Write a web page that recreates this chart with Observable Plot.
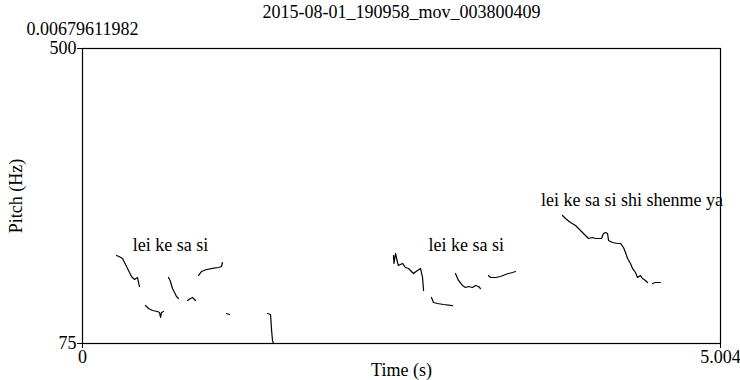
<!DOCTYPE html>
<html>
<head>
<meta charset="utf-8">
<script src="https://cdn.jsdelivr.net/npm/d3@7"></script>
<script src="https://cdn.jsdelivr.net/npm/@observablehq/plot@0.6"></script>
<style>
  html, body { margin: 0; padding: 0; background: #fff; }
</style>
</head>
<body>
<div id="chart"></div>
<script>
// Pitch contour segments (time in s, pitch in Hz)
const segA_t = [0.267, 0.290, 0.314, 0.353, 0.384, 0.408, 0.431, 0.447];
const segA_f = [201.8, 200.0, 197.5, 183.1, 171.5, 167.2, 170.1, 157.1];
const segB_t = [0.494, 0.518, 0.549, 0.588, 0.604, 0.612, 0.620, 0.635];
const segB_f = [129.7, 125.4, 122.5, 121.1, 119.7, 112.5, 119.7, 121.1];
const segC_t = [0.675, 0.690, 0.706, 0.722, 0.737, 0.753];
const segC_f = [170.1, 164.3, 154.2, 148.5, 142.7, 139.8];
const segD_t = [0.824, 0.847, 0.863, 0.886];
const segD_f = [137.0, 139.8, 141.3, 137.0];
const segE_t = [0.910, 0.933, 0.973, 1.020, 1.067, 1.090, 1.098];
const segE_f = [173.0, 178.7, 181.6, 183.1, 184.5, 185.9, 191.7];
const segF_t = [1.129, 1.153];
const segF_f = [118.2, 116.8];
const segG_t = [1.451, 1.475, 1.482, 1.490, 1.498];
const segG_f = [118.2, 116.8, 96.6, 79.3, 75.0];
const segH_t = [2.439, 2.443, 2.455, 2.471, 2.478, 2.510, 2.533, 2.557, 2.588, 2.596, 2.627, 2.651, 2.667, 2.675];
const segH_f = [201.8, 190.3, 204.7, 191.7, 187.4, 190.3, 184.5, 183.1, 177.3, 175.8, 180.2, 183.1, 170.1, 151.4];
const segI_t = [2.737, 2.753, 2.784, 2.831, 2.902];
const segI_f = [141.3, 134.1, 132.6, 131.2, 129.7];
const segJ_t = [2.925, 2.949, 2.980, 3.004, 3.027, 3.059, 3.082, 3.106, 3.121];
const segJ_f = [175.8, 165.8, 158.6, 155.7, 157.1, 155.7, 158.6, 157.1, 154.2];
const segK_t = [3.184, 3.200, 3.239, 3.278, 3.318, 3.341, 3.373, 3.396];
const segK_f = [173.0, 170.1, 170.1, 171.5, 174.4, 175.8, 177.3, 178.7];
const segL_t = [3.765, 3.788, 3.827, 3.867, 3.906, 3.945, 3.969, 4.000, 4.024, 4.047, 4.071, 4.086, 4.102, 4.118, 4.126, 4.157, 4.196, 4.220, 4.243, 4.259, 4.275, 4.298, 4.314, 4.337, 4.353, 4.376, 4.392, 4.416, 4.431];
const segL_f = [259.4, 255.1, 249.3, 245.0, 237.8, 230.6, 226.3, 227.7, 226.3, 226.3, 226.3, 233.5, 234.9, 233.5, 223.4, 220.5, 219.1, 219.1, 213.3, 206.1, 197.5, 190.3, 183.1, 177.3, 170.1, 173.0, 168.6, 165.8, 162.9];
const segM_t = [4.471, 4.494, 4.533];
const segM_f = [161.4, 162.9, 162.9];

const segmentTimes = [segA_t, segB_t, segC_t, segD_t, segE_t, segF_t, segG_t, segH_t, segI_t, segJ_t, segK_t, segL_t, segM_t];
const segmentPitches = [segA_f, segB_f, segC_f, segD_f, segE_f, segF_f, segG_f, segH_f, segI_f, segJ_f, segK_f, segL_f, segM_f];

// Annotations
const labelTexts = ["lei ke sa si", "lei ke sa si", "lei ke sa si shi shenme ya"];
const labelTimes = [0.69, 3.01, 4.31];
const labelPitches = [216, 216, 281];

// Axes
const xDomain = [0, 5.004];
const yDomain = [75, 500];
const xTicks = [0, 5.004];
const yTicks = [75, 500];
const titleText = "2015-08-01_190958_mov_003800409";
const cornerText = "0.00679611982";

const FONT = "Liberation Serif";
const FS = 18;

const points = [];
segmentTimes.forEach((ts, i) => {
  ts.forEach((t, j) => points.push({seg: i, t, f: segmentPitches[i][j]}));
});
const labels = labelTexts.map((s, i) => ({s, t: labelTimes[i], f: labelPitches[i]}));

const chart = Plot.plot({
  width: 740,
  height: 380,
  marginLeft: 82,
  marginRight: 20,
  marginTop: 48,
  marginBottom: 37,
  style: {fontFamily: FONT, fontSize: FS + "px", color: "#000", background: "#fff", overflow: "visible"},
  x: {domain: xDomain, type: "linear"},
  y: {domain: yDomain, type: "linear"},
  marks: [
    Plot.frame({stroke: "#000", strokeWidth: 1.2}),
    Plot.axisX({ticks: xTicks, tickFormat: d => d === 0 ? "0" : d.toFixed(3), tickSize: 5, tickPadding: 2, label: "Time (s)", labelAnchor: "center", labelArrow: "none", labelOffset: 32, fontSize: FS, fontFamily: FONT}),
    Plot.axisY({ticks: yTicks, tickFormat: d => String(d), tickSize: 5, tickPadding: 1, label: "Pitch (Hz)", labelAnchor: "center", labelArrow: "none", labelOffset: 73, fontSize: FS, fontFamily: FONT}),
    Plot.line(points, {x: "t", y: "f", z: "seg", stroke: "#000", strokeWidth: 1.2}),
    Plot.text(labels, {x: "t", y: "f", text: "s", fill: "#000", fontSize: FS, fontFamily: FONT}),
    Plot.text([titleText], {frameAnchor: "top", dy: -36, lineAnchor: "middle", text: d => d, fill: "#000", fontSize: FS, fontFamily: FONT}),
    Plot.text([cornerText], {frameAnchor: "top-left", dy: -19, lineAnchor: "middle", textAnchor: "middle", text: d => d, fill: "#000", fontSize: FS, fontFamily: FONT})
  ]
});
document.getElementById("chart").appendChild(chart);
</script>
</body>
</html>
